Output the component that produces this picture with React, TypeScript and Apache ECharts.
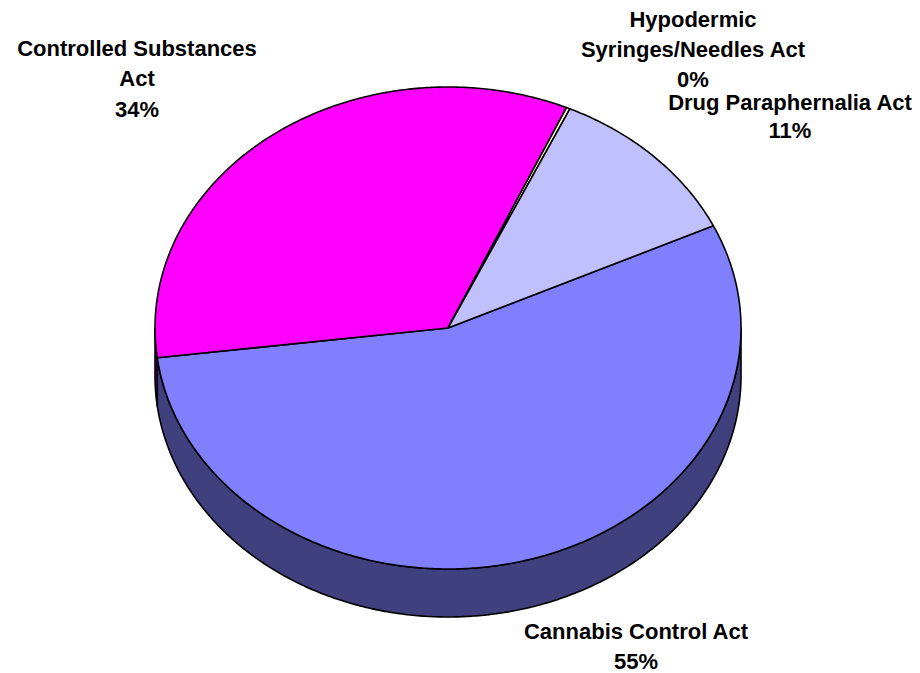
import React, { useEffect, useRef } from 'react';
import * as echarts from 'echarts';

// ---- data ----
const categories = [
  'Cannabis Control Act',
  'Controlled Substances Act',
  'Hypodermic Syringes/Needles Act',
  'Drug Paraphernalia Act',
];
const labelLines = [
  ['Cannabis Control Act'],
  ['Controlled Substances', 'Act'],
  ['Hypodermic', 'Syringes/Needles Act'],
  ['Drug Paraphernalia Act'],
];
const values = [55.0, 33.6, 0.2, 11.2];

// ---- styles / layout ----
const topColors = ['#8080FF', '#FF00FF', '#FFFFCC', '#C0C0FF'];
const sideColors = ['#40407F', '#7F007F', '#7F7F66', '#60607F'];
const START_ANGLE = 64.9; // degrees, clockwise from 12 o'clock
const PIE = { cx: 448, cy: 328, rx: 293, ry: 241, depth: 48 };
// x centre and first-line y for each label, then line spacing
const LABEL_POS: [number, number, number][] = [
  [636, 631, 30],
  [137, 48, 30.5],
  [693, 19.5, 30],
  [790, 102.5, 28],
];

const total = values.reduce((a, b) => a + b, 0);

function sliceAngles(i: number, v: number): [number, number] {
  let s = START_ANGLE;
  for (let j = 0; j < i; j++) s += (values[j] / total) * 360;
  return [s, s + (v / total) * 360];
}

function pt(theta: number, dy = 0): number[] {
  const r = (theta * Math.PI) / 180;
  return [PIE.cx + PIE.rx * Math.sin(r), PIE.cy - PIE.ry * Math.cos(r) + dy];
}

function arc(a1: number, a2: number, dy = 0): number[][] {
  const n = Math.max(2, Math.ceil(Math.abs(a2 - a1) / 0.5));
  const out: number[][] = [];
  for (let k = 0; k <= n; k++) out.push(pt(a1 + ((a2 - a1) * k) / n, dy));
  return out;
}

const strokeStyle = { stroke: '#000', lineWidth: 1.6, lineJoin: 'round' as const };

function renderSide(params: any, api: any) {
  const i = params.dataIndex;
  const v = api.value(0);
  const [a1, a2] = sliceAngles(i, v);
  const children: any[] = [];
  for (const k of [0, 360]) {
    const b1 = Math.max(a1, 90 + k);
    const b2 = Math.min(a2, 270 + k);
    if (b2 > b1) {
      const topArc = arc(b1, b2, 0);
      const botArc = arc(b2, b1, PIE.depth);
      children.push({
        type: 'polygon',
        shape: { points: topArc.concat(botArc) },
        style: { fill: sideColors[i], ...strokeStyle },
      });
    }
  }
  return { type: 'group', children };
}

function renderTop(params: any, api: any) {
  const i = params.dataIndex;
  const v = api.value(0);
  const [a1, a2] = sliceAngles(i, v);
  const points = [[PIE.cx, PIE.cy]].concat(arc(a1, a2, 0));
  const pct = Math.round((v / total) * 100) + '%';
  const lines = labelLines[i].concat([pct]);
  const [lx, ly, step] = LABEL_POS[i];
  const texts = lines.map((t, k) => ({
    type: 'text',
    x: lx,
    y: ly + k * step,
    style: {
      text: t,
      fill: '#000',
      fontSize: 22,
      fontWeight: 'bold',
      fontFamily: '"Liberation Sans", Arial, sans-serif',
      align: 'center',
      verticalAlign: 'middle',
    },
  }));
  return {
    type: 'group',
    children: [
      {
        type: 'polygon',
        shape: { points },
        style: { fill: topColors[i], ...strokeStyle },
      },
      ...texts,
    ],
  };
}

export default function App() {
  const ref = useRef<HTMLDivElement>(null);
  useEffect(() => {
    document.body.style.margin = '0';
    if (!ref.current) return;
    const chart = echarts.init(ref.current, undefined, { renderer: 'svg' });
    const data = values.map((v, i) => ({ value: v, name: categories[i] }));
    chart.setOption({
      animation: false,
      backgroundColor: '#fff',
      series: [
        { type: 'custom', coordinateSystem: 'none', renderItem: renderSide, data, z: 1, silent: true },
        { type: 'custom', coordinateSystem: 'none', renderItem: renderTop, data, z: 2, silent: true },
      ],
    });
    return () => chart.dispose();
  }, []);
  return <div ref={ref} style={{ width: 920, height: 673 }} />;
}
